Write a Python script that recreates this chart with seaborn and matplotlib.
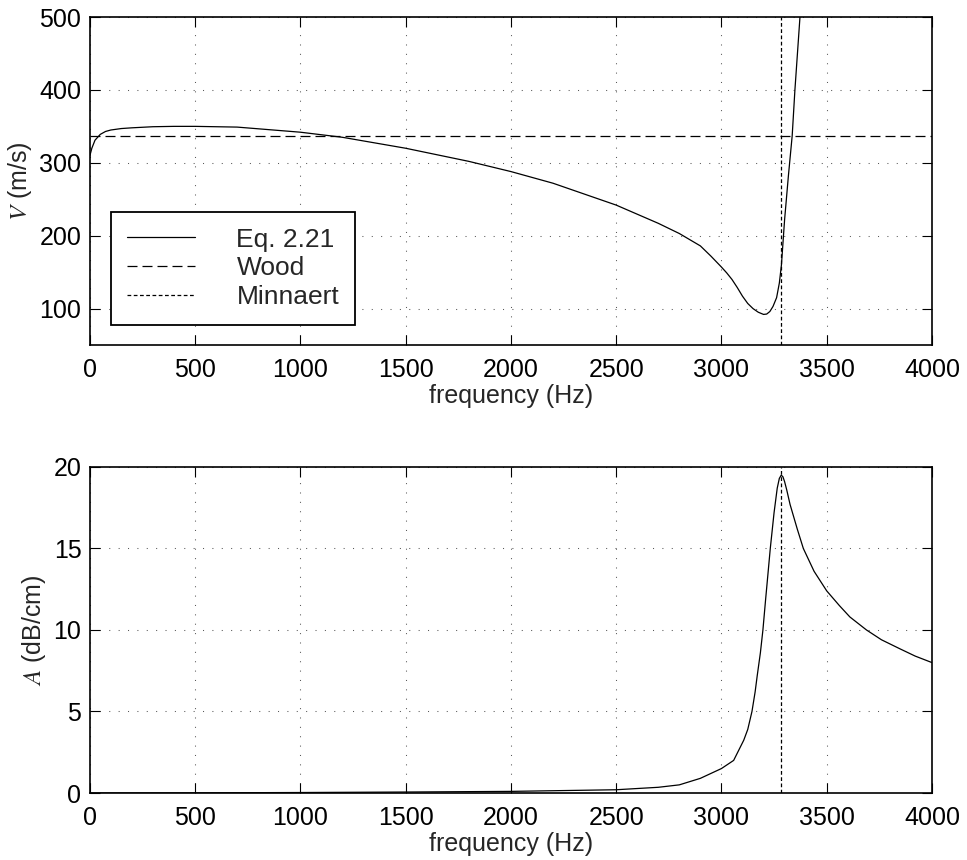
import numpy as np
import pandas as pd
import matplotlib
matplotlib.use("Agg")
import matplotlib.pyplot as plt
import seaborn as sns

# ---- data ----
freq_v = [0, 10, 25, 50, 75, 100, 150, 200, 300, 400, 500, 700, 1000, 1200, 1500,
          1800, 2000, 2200, 2500, 2700, 2800, 2900, 2950, 3000, 3025, 3050, 3075,
          3100, 3125, 3150, 3175, 3200, 3215, 3230, 3245, 3262, 3275, 3285, 3300,
          3318, 3336, 3349, 3373, 3380]
speed_v = [309, 320, 331, 339, 343, 345, 347, 348, 349.5, 350, 350, 349, 342, 335, 320,
           302, 288, 272, 242, 217, 203, 186, 172, 157, 149, 140, 129,
           117, 107, 100, 95, 92, 92.5, 96, 103, 115, 135, 160, 222,
           282, 337, 400, 500, 530]
wood_speed = 337.0
minnaert_freq = 3285.0

freq_a = [0, 500, 1000, 1500, 2000, 2500, 2700, 2800, 2900, 3000, 3058, 3106, 3125,
          3145, 3160, 3170, 3185, 3197, 3210, 3215, 3232, 3250, 3265, 3275, 3284,
          3292, 3300, 3310, 3326, 3360, 3389, 3440, 3500, 3560, 3610, 3689, 3760,
          3847, 3920, 4000]
atten_a = [0.0, 0.01, 0.03, 0.06, 0.1, 0.2, 0.35, 0.5, 0.9, 1.5, 2.0, 3.24, 3.9,
           5.0, 6.2, 7.2, 8.6, 10.0, 11.9, 12.6, 15.0, 17.2, 18.7, 19.3, 19.5,
           19.4, 19.1, 18.6, 17.7, 16.2, 15.0, 13.6, 12.4, 11.5, 10.8, 10.0, 9.4,
           8.85, 8.4, 8.0]

xticks = [0, 500, 1000, 1500, 2000, 2500, 3000, 3500, 4000]
yticks_v = [100, 200, 300, 400, 500]
yticks_a = [0, 5, 10, 15, 20]

sns.set_style("ticks")
plt.rcParams["font.family"] = ["Liberation Sans", "DejaVu Sans"]
plt.rcParams["mathtext.fontset"] = "stix"
plt.rcParams["font.size"] = 18

fig = plt.figure(figsize=(9.67, 8.6), dpi=100)
ax1 = fig.add_axes([0.0928, 0.5988, 0.8710, 0.3814])
ax2 = fig.add_axes([0.0928, 0.0779, 0.8710, 0.3791])

df_v = pd.DataFrame({"f": freq_v, "V": speed_v})
df_a = pd.DataFrame({"f": freq_a, "A": atten_a})

grid_kw = dict(color="0.35", linestyle=(0, (1, 8)), linewidth=0.75)

def style(ax):
    ax.set_xlim(0, 4000)
    ax.set_xticks(xticks)
    ax.grid(True, **grid_kw)
    ax.tick_params(direction="in", length=7, width=0.8, top=True, right=True,
                   labelsize=18, colors="black")
    ax.tick_params(axis="x", pad=9)
    ax.tick_params(axis="y", pad=6)
    for s in ax.spines.values():
        s.set_linewidth(1.2)
        s.set_color("black")
        s.set_visible(True)
    ax.set_axisbelow(True)

# top panel
sns.lineplot(data=df_v, x="f", y="V", ax=ax1, color="black", linewidth=0.9,
             estimator=None, sort=False, label="Eq. 2.21")
ax1.axhline(wood_speed, color="black", linewidth=0.9, dashes=(8, 4), label="Wood")
ax1.axvline(minnaert_freq, color="black", linewidth=0.9, dashes=(3, 2),
            label="Minnaert")
ax1.set_ylim(50, 500)
ax1.set_yticks(yticks_v)
style(ax1)
ax1.set_xlabel("frequency (Hz)", fontsize=18, labelpad=2)
ax1.set_ylabel(r"$V$ (m/s)", fontsize=18, labelpad=4)
leg = ax1.legend(loc="lower left", bbox_to_anchor=(0.0253, 0.061),
                 borderaxespad=0, fontsize=19, frameon=True, fancybox=False,
                 handlelength=2.6, handletextpad=1.55, labelspacing=0.18,
                 borderpad=0.6)
leg.get_frame().set_edgecolor("black")
leg.get_frame().set_linewidth(1.3)
leg.get_frame().set_alpha(1)

# bottom panel
sns.lineplot(data=df_a, x="f", y="A", ax=ax2, color="black", linewidth=0.9,
             estimator=None, sort=False)
ax2.axvline(minnaert_freq, color="black", linewidth=0.9, dashes=(3, 2))
ax2.set_ylim(0, 20)
ax2.set_yticks(yticks_a)
style(ax2)
ax2.set_xlabel("frequency (Hz)", fontsize=18, labelpad=2)
ax2.set_ylabel(r"$A$ (dB/cm)", fontsize=18, labelpad=4)

fig.savefig("out.png", dpi=100)
